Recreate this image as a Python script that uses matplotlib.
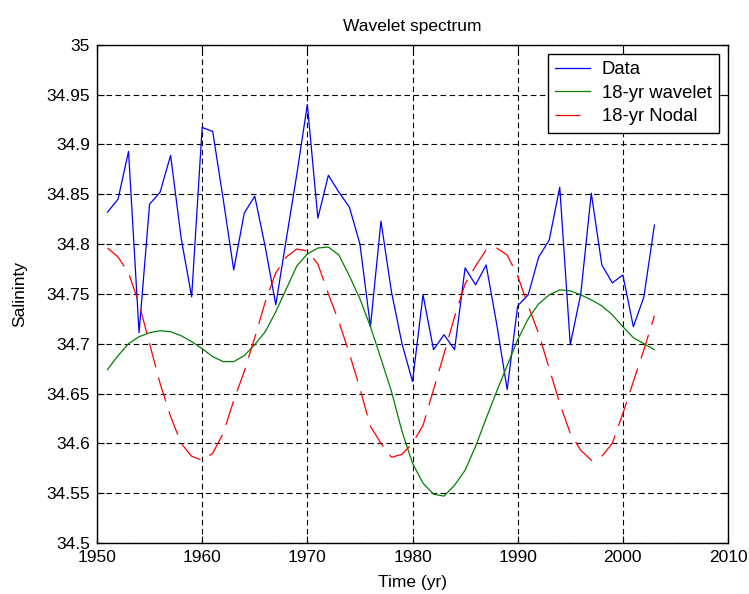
import numpy as np
import matplotlib
matplotlib.use('Agg')
import matplotlib.pyplot as plt

plt.rcParams['font.family'] = ['Liberation Sans', 'DejaVu Sans']
plt.rcParams['lines.scale_dashes'] = False

years = np.arange(1951, 2004)

data = [34.832, 34.845, 34.893, 34.711, 34.840, 34.852, 34.889, 34.806, 34.747, 34.917,
        34.913, 34.845, 34.774, 34.831, 34.848, 34.797, 34.739, 34.805, 34.870, 34.940,
        34.826, 34.869, 34.852, 34.837, 34.800, 34.717, 34.823, 34.752, 34.700, 34.662,
        34.749, 34.694, 34.709, 34.694, 34.776, 34.759, 34.779, 34.720, 34.654, 34.738,
        34.749, 34.787, 34.804, 34.857, 34.699, 34.750, 34.851, 34.779, 34.761, 34.769,
        34.717, 34.747, 34.819]

wavelet = [34.674, 34.688, 34.700, 34.707, 34.711, 34.713, 34.712, 34.708, 34.702, 34.695,
           34.687, 34.682, 34.682, 34.688, 34.699, 34.712, 34.732, 34.755, 34.778, 34.790,
           34.796, 34.797, 34.789, 34.768, 34.745, 34.717, 34.685, 34.652, 34.612, 34.580,
           34.560, 34.549, 34.547, 34.558, 34.573, 34.597, 34.625, 34.652, 34.678, 34.704,
           34.725, 34.740, 34.749, 34.754, 34.753, 34.749, 34.744, 34.738, 34.729, 34.717,
           34.706, 34.700, 34.694]

nodal = [34.796, 34.787, 34.771, 34.740, 34.700, 34.660, 34.627, 34.600, 34.587, 34.583,
         34.590, 34.610, 34.643, 34.672, 34.706, 34.742, 34.771, 34.787, 34.795, 34.793,
         34.780, 34.750, 34.722, 34.690, 34.655, 34.617, 34.600, 34.586, 34.589, 34.600,
         34.618, 34.654, 34.690, 34.727, 34.760, 34.778, 34.794, 34.796, 34.789, 34.768,
         34.738, 34.710, 34.675, 34.640, 34.610, 34.593, 34.583, 34.587, 34.600, 34.630,
         34.662, 34.694, 34.728]

fig = plt.figure(figsize=(7.49, 5.94), dpi=100)
ax = fig.add_axes([0.1295, 0.0859, 0.8425, 0.8388])

ax.plot(years, data, color='#0000ff', lw=0.9, label='Data')
ax.plot(years, wavelet, color='#008000', lw=0.9, label='18-yr wavelet')
ax.plot(years, nodal, color='#ff0000', lw=0.9, dashes=(18, 7.5), label='18-yr Nodal')

ax.set_xlim(1950, 2010)
ax.set_ylim(34.5, 35)
ax.set_xticks(np.arange(1950, 2011, 10))
ax.set_yticks(np.arange(34.5, 35.001, 0.05))
ax.set_yticklabels(['34.5', '34.55', '34.6', '34.65', '34.7', '34.75',
                    '34.8', '34.85', '34.9', '34.95', '35'])
ax.tick_params(direction='in', length=5, width=0.8, labelsize=12.5, colors='black',
               top=True, right=True, pad=5)
ax.grid(True, color='black', lw=0.8, dashes=(4, 2.5))
for s in ax.spines.values():
    s.set_linewidth(1.0)

ax.set_title('Wavelet spectrum', fontsize=12.5, pad=10)
ax.set_xlabel('Time (yr)', fontsize=12.5, labelpad=7)
ax.set_ylabel('Salininty', fontsize=12.5, labelpad=14)

leg = ax.legend(loc='upper right', fontsize=13.3, fancybox=False, framealpha=1,
                edgecolor='black', handlelength=1.9, borderaxespad=0.5,
                labelspacing=0.35, handletextpad=0.6, borderpad=0.4)
leg.get_frame().set_linewidth(1.0)

fig.savefig('out.png', dpi=100)
plt.close()
